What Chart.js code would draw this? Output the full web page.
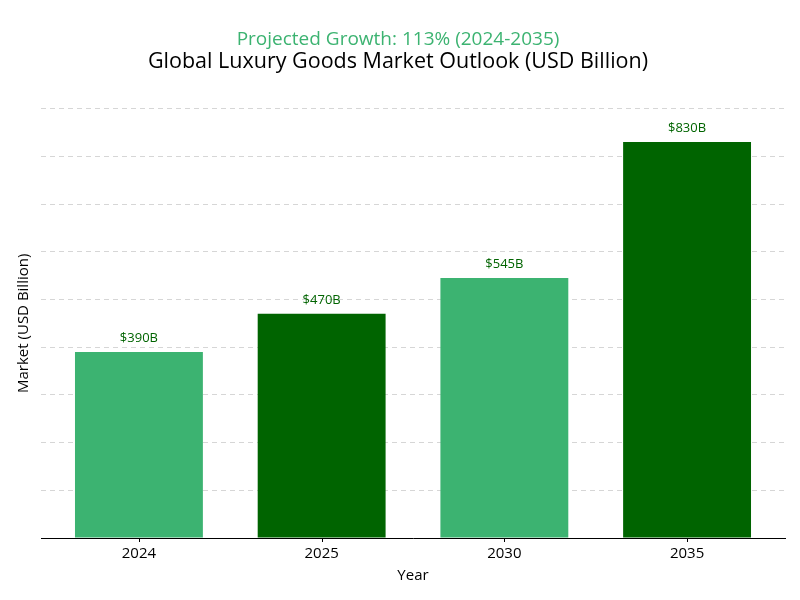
<!DOCTYPE html>
<html>
<head>
<meta charset="utf-8">
<script src="https://cdn.jsdelivr.net/npm/chart.js@4/dist/chart.umd.min.js"></script>
<style>
html,body{margin:0;padding:0;background:#fff;}
#wrap{width:800px;height:600px;}
</style>
</head>
<body>
<div id="wrap"><canvas id="c" width="800" height="600"></canvas></div>
<script>
const categories = ["2024", "2025", "2030", "2035"];
const marketValues = [390, 470, 545, 830];
const valueLabels = ["$390B", "$470B", "$545B", "$830B"];
const barColors = ["#3cb371", "#006400", "#3cb371", "#006400"];

const FONT = "'Open Sans', 'Noto Sans', sans-serif";

const labelPlugin = {
  id: 'valueLabels',
  afterDatasetsDraw(chart) {
    const ctx = chart.ctx;
    const meta = chart.getDatasetMeta(0);
    ctx.save();
    ctx.font = "13px " + FONT;
    ctx.fillStyle = "#006400";
    ctx.textAlign = "center";
    ctx.textBaseline = "bottom";
    meta.data.forEach((bar, i) => {
      ctx.fillText(valueLabels[i], bar.x, bar.y - 7);
    });
    ctx.restore();
  },
  afterDraw(chart) {
    const ctx = chart.ctx;
    const xs = chart.scales.x;
    const y0 = chart.chartArea.bottom;
    ctx.save();
    ctx.strokeStyle = "#000";
    ctx.lineWidth = 1;
    categories.forEach((c, i) => {
      const px = Math.round(xs.getPixelForValue(i)) + 0.5;
      ctx.beginPath();
      ctx.moveTo(px, y0);
      ctx.lineTo(px, y0 + 4);
      ctx.stroke();
    });
    ctx.restore();
  }
};

new Chart(document.getElementById('c'), {
  type: 'bar',
  data: {
    datasets: [{
      data: marketValues.map((v, i) => ({ x: i, y: v })),
      backgroundColor: barColors,
      borderWidth: 0,
      categoryPercentage: 1.0,
      barPercentage: 0.7
    }]
  },
  options: {
    responsive: false,
    animation: false,
    layout: { padding: { left: 11, right: 15, top: 12, bottom: 11 } },
    plugins: {
      legend: { display: false },
      tooltip: { enabled: false },
      subtitle: {
        display: true,
        text: "Global Luxury Goods Market Outlook (USD Billion)",
        color: "#000",
        font: { family: FONT, size: 21.5 },
        padding: { top: 0, bottom: 34 }
      },
      title: {
        display: true,
        text: "Projected Growth: 113% (2024-2035)",
        color: "#3cb371",
        font: { family: FONT, size: 19, weight: 'normal' },
        padding: { top: 16, bottom: -2 }
      }
    },
    scales: {
      x: {
        type: 'linear',
        offset: false,
        min: -0.536,
        max: 3.536,
        afterBuildTicks(scale) {
          scale.ticks = categories.map((c, i) => ({ value: i }));
        },
        grid: { display: false, offset: false },
        border: { display: true, color: "#000", width: 1 },
        ticks: {
          color: "#000",
          font: { family: FONT, size: 15, lineHeight: 1.0 },
          padding: 0,
          autoSkip: false,
          callback: (v) => categories[v]
        },
        title: { display: true, text: "Year", color: "#000", font: { family: FONT, size: 15 }, padding: { top: 6 } }
      },
      y: {
        min: 0,
        max: 900,
        z: 1,
        ticks: { display: false, stepSize: 100 },
        border: { display: false, dash: [5, 4] },
        grid: { color: "rgba(180,180,180,0.55)", drawTicks: false, lineWidth: 1 },
        title: { display: true, text: "Market (USD Billion)", color: "#000", font: { family: FONT, size: 15 }, padding: { bottom: 8 } }
      }
    }
  },
  plugins: [labelPlugin]
});
</script>
</body>
</html>
